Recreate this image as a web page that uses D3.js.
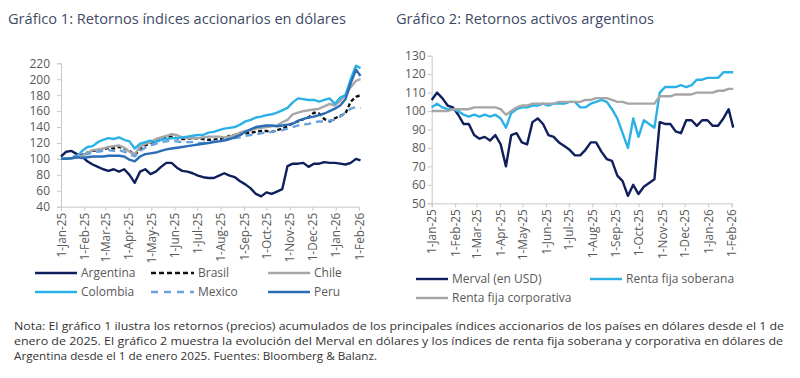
<!DOCTYPE html>
<html><head><meta charset="utf-8">
<script src="https://cdn.jsdelivr.net/npm/d3@7"></script>
<style>
html,body{margin:0;padding:0;background:#fff;}
svg{display:block;font-family:"Open Sans",sans-serif;}
</style></head>
<body><svg id="c" width="800" height="378"></svg>
<script>
// ---------- DATA ----------
const dates = ["2025-01-01","2025-01-08","2025-01-15","2025-01-22","2025-01-29","2025-02-05","2025-02-12","2025-02-19","2025-02-26","2025-03-05","2025-03-12","2025-03-19","2025-03-26","2025-04-02","2025-04-09","2025-04-16","2025-04-23","2025-04-30","2025-05-07","2025-05-14","2025-05-21","2025-05-28","2025-06-04","2025-06-11","2025-06-18","2025-06-25","2025-07-02","2025-07-09","2025-07-16","2025-07-23","2025-07-30","2025-08-06","2025-08-13","2025-08-20","2025-08-27","2025-09-03","2025-09-10","2025-09-17","2025-09-24","2025-10-01","2025-10-08","2025-10-15","2025-10-22","2025-10-29","2025-11-05","2025-11-12","2025-11-19","2025-11-26","2025-12-03","2025-12-10","2025-12-17","2025-12-24","2025-12-31","2026-01-07","2026-01-14","2026-01-21","2026-01-28","2026-02-03"];

// Chart 1: equity index returns in USD (base 100)
const argentina = [103,109,110,106,103,97,93,90,87,85,87,84,87,80,70,84,87,81,84,90,95,95,89,85,84,82,79,77,76,76,79,82,79,77,72,68,63,56,53,58,56,59,62,91,94,94,95,90,94,94,96,95,95,94,93,95,100,98];
const brasil    = [100,100,101,104,105,108,110,111,112,114,113,115,113,110,105,112,117,120,122,124,127,128,126,125,125,126,126,125,124,124,125,126,129,130,131,132,133,134,135,135,134,136,138,141,145,147,150,152,158,157,150,147,151,154,157,172,178,180];
const chile     = [100,100,100,102,104,108,111,112,113,115,116,117,114,109,106,115,119,121,125,127,129,131,130,127,126,126,126,127,128,128,128,127,128,130,133,135,136,138,139,140,141,142,146,149,156,158,160,161,162,163,166,169,167,173,180,190,198,200];
const colombia  = [100,101,101,102,110,115,116,121,124,126,125,127,124,122,113,119,121,123,121,124,125,126,126,127,128,129,130,130,133,134,136,138,139,140,143,147,149,152,153,155,156,158,161,164,171,176,175,174,174,172,174,176,169,177,180,200,217,214];
const mexico    = [100,101,102,104,105,106,108,109,110,111,110,111,109,106,103,110,114,117,119,121,122,123,122,121,121,121,120,120,121,122,123,124,125,126,127,129,130,131,132,133,134,135,136,138,140,142,143,144,146,147,147,148,149,153,158,163,165,164];
const peru      = [100,100,101,102,101,102,103,103,103,104,104,104,103,99,97,103,106,107,108,110,112,113,114,115,116,117,118,119,120,121,122,123,125,127,130,134,137,140,141,142,142,141,142,143,144,148,150,152,153,155,157,160,163,167,175,195,212,204];

// Chart 2: Argentine assets
const merval      = [106,110,107,103,102,98,93,93,87,85,86,84,87,82,70,87,88,83,82,94,96,93,87,86,83,81,79,76,76,79,83,83,78,74,73,65,62,54,60,55,59,61,63,94,93,93,89,88,95,95,92,95,95,92,92,96,101,91];
const soberana    = [102,104,102,101,101,100,98,97,98,97,98,97,98,96,91,99,101,102,102,103,103,104,103,104,104,104,105,105,102,102,104,105,106,105,101,96,88,80,96,86,95,93,91,110,113,113,113,114,113,114,117,117,118,118,118,121,121,121];
const corporativa = [100,100,100,100,101,101,101,101,102,102,102,102,102,101,98,100,102,103,103,104,104,104,104,104,105,105,105,105,105,106,106,107,107,107,106,105,105,104,104,104,104,104,104,108,108,108,109,109,109,109,110,110,110,110,111,111,112,112];

const yTicks1 = [40,60,80,100,120,140,160,180,200,220];
const yTicks2 = [50,60,70,80,90,100,110,120,130];

const title1 = "Gráfico 1: Retornos índices accionarios en dólares";
const title2 = "Gráfico 2: Retornos activos argentinos";
const noteLines = [
  "Nota: El gráfico 1 ilustra los retornos (precios) acumulados de los principales índices accionarios de los países en dólares desde el 1 de",
  "enero de 2025. El gráfico 2 muestra la evolución del Merval en dólares y los índices de renta fija soberana y corporativa en dólares de",
  "Argentina desde el 1 de enero 2025. Fuentes: Bloomberg & Balanz."
];

// ---------- STYLE ----------
const C_NAVY = "#0f1f5c", C_LIGHT = "#2cb1e6", C_GRAY = "#a6a6a6", C_BLACK = "#111", C_MEX = "#6aa2db", C_PERU = "#2a6db5";
const AX = "#c9c9c9", TXT = "#595959", TITLE = "#3f4b66";

const parse = d3.timeParse("%Y-%m-%d");
const D = dates.map(parse);
const svg = d3.select("#c");
svg.append("rect").attr("width",800).attr("height",378).attr("fill","#fff");

function panel(cfg){
  const g = svg.append("g");
  const x = d3.scaleTime().domain([parse("2025-01-01"), parse("2026-02-01")]).range([cfg.x0, cfg.x1]);
  const y = d3.scaleLinear().domain(cfg.yDom).range([cfg.y0, cfg.y1]);
  const ya = g.append("g").attr("transform",`translate(${cfg.x0},0)`)
    .call(d3.axisLeft(y).tickValues(cfg.yTicks).tickSize(4).tickPadding(cfg.yPad).tickFormat(d3.format("d")));
  ya.select(".domain").attr("stroke",AX);
  ya.selectAll(".tick line").attr("stroke",AX);
  ya.selectAll("text").attr("fill",TXT).style("font-size","12px").style("font-family","'Open Sans',sans-serif");
  const months = d3.timeMonth.range(parse("2025-01-01"), parse("2026-02-02"));
  const xa = g.append("g").attr("transform",`translate(0,${cfg.y0})`)
    .call(d3.axisBottom(x).tickValues(months).tickSize(4).tickFormat(d3.timeFormat("%-d-%b-%y")));
  xa.select(".domain").attr("stroke",AX);
  xa.selectAll(".tick line").attr("stroke",AX);
  xa.selectAll("text").attr("fill",TXT).style("font-size","11.8px").style("font-family","'Open Sans',sans-serif")
    .attr("transform","rotate(-90)").attr("text-anchor","end").attr("x",-6).attr("y",0).attr("dy","0.35em");
  cfg.series.forEach(s=>{
    const line = d3.line().x((d,i)=>x(D[i])).y(d=>y(d)).curve(d3.curveLinear);
    g.append("path").datum(s.values).attr("d",line).attr("fill","none")
      .attr("stroke",s.color).attr("stroke-width",2.4).attr("stroke-linejoin","round")
      .attr("stroke-dasharray",s.dash||null);
  });
  svg.append("text").attr("x",cfg.tx).attr("y",24).attr("fill",TITLE)
    .style("font-size","14.6px").text(cfg.title);
  cfg.legend.forEach(l=>{
    svg.append("line").attr("x1",l.x).attr("x2",l.x+l.w).attr("y1",l.y).attr("y2",l.y)
      .attr("stroke",l.color).attr("stroke-width",2.4).attr("stroke-dasharray",l.dash||null);
    svg.append("text").attr("x",l.x+l.w+4).attr("y",l.y).attr("dy","0.36em").attr("fill",TXT)
      .style("font-size","12px").text(l.name);
  });
}

panel({
  x0:61, x1:359, y0:206.7, y1:63.3, yDom:[40,220], yTicks:yTicks1, yPad:7,
  title:title1, tx:8,
  series:[
    {values:argentina,color:C_NAVY},
    {values:brasil,color:C_BLACK,dash:"4,2.5"},
    {values:chile,color:C_GRAY},
    {values:colombia,color:C_LIGHT},
    {values:mexico,color:C_MEX,dash:"7,5"},
    {values:peru,color:C_PERU}
  ],
  legend:[
    {name:"Argentina",color:C_NAVY,x:35,y:273,w:42},
    {name:"Brasil",color:C_BLACK,x:151,y:273,w:43,dash:"5,3"},
    {name:"Chile",color:C_GRAY,x:268,y:273,w:42},
    {name:"Colombia",color:C_LIGHT,x:35,y:292,w:42},
    {name:"Mexico",color:C_MEX,x:151,y:292,w:43,dash:"7,6"},
    {name:"Peru",color:C_PERU,x:268,y:292,w:42}
  ]
});

panel({
  x0:431.7, x1:731.7, y0:203.3, y1:55.7, yDom:[50,130], yTicks:yTicks2, yPad:2,
  title:title2, tx:396,
  series:[
    {values:merval,color:C_NAVY},
    {values:soberana,color:C_LIGHT},
    {values:corporativa,color:C_GRAY}
  ],
  legend:[
    {name:"Merval (en USD)",color:C_NAVY,x:416,y:279,w:32},
    {name:"Renta fija soberana",color:C_LIGHT,x:590,y:279,w:32},
    {name:"Renta fija corporativa",color:C_GRAY,x:416,y:298,w:32}
  ]
});

const widths = [770, 769, 363];
noteLines.forEach((t,i)=>{
  svg.append("text").attr("x",14).attr("y",330+i*15).attr("fill","#333")
    .style("font-size","11px").text(t)
    .attr("textLength",widths[i]).attr("lengthAdjust","spacingAndGlyphs");
});
</script></body></html>
